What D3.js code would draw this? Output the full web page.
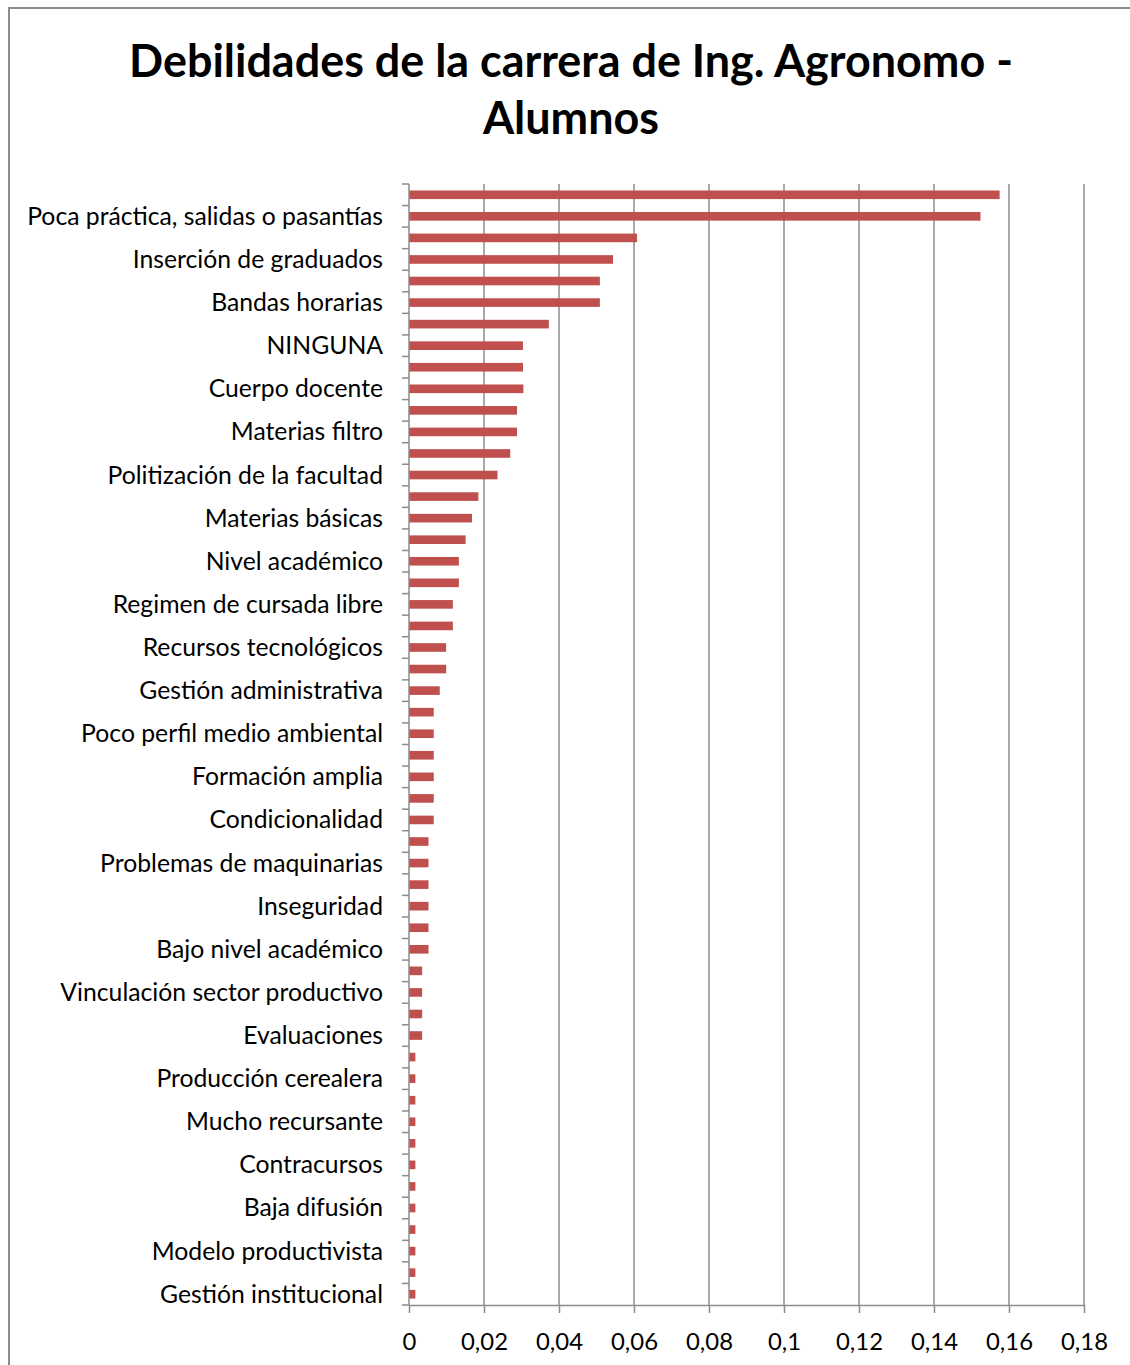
<!DOCTYPE html>
<html>
<head>
<meta charset="utf-8">
<script src="https://cdn.jsdelivr.net/npm/d3@7"></script>
<style>
  html, body { margin: 0; padding: 0; background: #fff; }
  svg { display: block; }
  text { font-family: Lato, "Open Sans", sans-serif; fill: #000; }
</style>
</head>
<body>
<svg id="chart" width="1130" height="1365"></svg>
<script>
// ---- data (top to bottom) ----
const titleLines = ["Debilidades de la carrera de Ing. Agronomo -", "Alumnos"];

// Only every second category label is shown in the source chart; hidden ones are "".
const categories = [
  "", "Poca práctica, salidas o pasantías",
  "", "Inserción de graduados",
  "", "Bandas horarias",
  "", "NINGUNA",
  "", "Cuerpo docente",
  "", "Materias filtro",
  "", "Politización de la facultad",
  "", "Materias básicas",
  "", "Nivel académico",
  "", "Regimen de cursada libre",
  "", "Recursos tecnológicos",
  "", "Gestión administrativa",
  "", "Poco perfil medio ambiental",
  "", "Formación amplia",
  "", "Condicionalidad",
  "", "Problemas de maquinarias",
  "", "Inseguridad",
  "", "Bajo nivel académico",
  "", "Vinculación sector productivo",
  "", "Evaluaciones",
  "", "Producción cerealera",
  "", "Mucho recursante",
  "", "Contracursos",
  "", "Baja difusión",
  "", "Modelo productivista",
  "", "Gestión institucional"
];

const values = [
  0.1575, 0.1524, 0.0608, 0.0544, 0.0509, 0.0509, 0.0373, 0.0304,
  0.0304, 0.0305, 0.0288, 0.0288, 0.0270, 0.0236, 0.0185, 0.0168,
  0.0151, 0.0133, 0.0133, 0.0117, 0.0117, 0.0099, 0.0099, 0.0082,
  0.0066, 0.0066, 0.0066, 0.0066, 0.0066, 0.0066,
  0.0052, 0.0052, 0.0052, 0.0052, 0.0052, 0.0052,
  0.0035, 0.0035, 0.0035, 0.0035,
  0.0017, 0.0017, 0.0017, 0.0017, 0.0017, 0.0017,
  0.0017, 0.0017, 0.0017, 0.0017, 0.0017, 0.0017
];

const xTicks = [0, 0.02, 0.04, 0.06, 0.08, 0.1, 0.12, 0.14, 0.16, 0.18];

// ---- layout ----
const svg = d3.select("#chart");
const plot = { left: 409, right: 1084, top: 184, bottom: 1305 };
const gray = "#8c8c8c";
const barColor = "#C0504D";

// outer frame (continues past the picture edges)
svg.append("rect")
  .attr("x", 9).attr("y", 8)
  .attr("width", 1200).attr("height", 1500)
  .attr("fill", "none").attr("stroke", gray).attr("stroke-width", 2);

const x = d3.scaleLinear().domain([0, 0.18]).range([plot.left, plot.right]);
const idx = d3.range(values.length);
const y = d3.scaleBand().domain(idx).range([plot.top, plot.bottom]).paddingInner(0.6).paddingOuter(0.3);
const yOuter = d3.scaleBand().domain(idx).range([plot.top, plot.bottom]);

// helper: fit font size to target width
function fitSize(sample, weight, target) {
  const t = svg.append("text").attr("font-size", 100).attr("font-weight", weight).text(sample);
  const w = t.node().getComputedTextLength();
  t.remove();
  return 100 * target / w;
}

// title
const titleSize = fitSize(titleLines[0], "bold", 884);
svg.selectAll("text.title").data(titleLines).join("text")
  .attr("class", "title")
  .attr("x", 571)
  .attr("y", (d, i) => 60 + i * 57)
  .attr("text-anchor", "middle")
  .attr("dominant-baseline", "central")
  .attr("font-weight", "bold")
  .attr("font-size", titleSize)
  .text(d => d);

// vertical gridlines
svg.append("g").selectAll("line").data(xTicks.slice(1)).join("line")
  .attr("x1", d => x(d)).attr("x2", d => x(d))
  .attr("y1", plot.top).attr("y2", plot.bottom)
  .attr("stroke", gray).attr("stroke-width", 1.5);

// bars
svg.append("g").selectAll("rect").data(values).join("rect")
  .attr("x", x(0))
  .attr("y", (d, i) => y(i))
  .attr("width", d => x(d) - x(0))
  .attr("height", y.bandwidth())
  .attr("fill", barColor);

// y axis (category axis) with ticks at band boundaries
const yAxisG = svg.append("g");
yAxisG.append("line")
  .attr("x1", plot.left).attr("x2", plot.left)
  .attr("y1", plot.top).attr("y2", plot.bottom)
  .attr("stroke", gray).attr("stroke-width", 1.5);
const boundaries = idx.map(i => yOuter(i)).concat([plot.bottom]);
yAxisG.selectAll("line.tk").data(boundaries).join("line")
  .attr("class", "tk")
  .attr("x1", plot.left - 7).attr("x2", plot.left)
  .attr("y1", d => d).attr("y2", d => d)
  .attr("stroke", gray).attr("stroke-width", 1.5);

const labelSize = fitSize("Poca práctica, salidas o pasantías", "normal", 356);
yAxisG.selectAll("text").data(categories.map((c, i) => ({ c, i })).filter(d => d.c !== "")).join("text")
  .attr("x", 383)
  .attr("y", d => yOuter(d.i) + yOuter.bandwidth() / 2 - 1)
  .attr("text-anchor", "end")
  .attr("dominant-baseline", "central")
  .attr("font-size", labelSize)
  .attr("fill", "#111")
  .text(d => d.c);

// x axis
const fmt = d => d3.format("~g")(d).replace(".", ",");
const xAxisG = svg.append("g").attr("transform", `translate(0,${plot.bottom})`)
  .call(d3.axisBottom(x).tickValues(xTicks).tickFormat(fmt).tickSizeOuter(0).tickSizeInner(8).tickPadding(20));
xAxisG.select(".domain").attr("stroke", gray).attr("stroke-width", 1.5);
xAxisG.selectAll(".tick line").attr("stroke", gray).attr("stroke-width", 1.5);
const tickSize = fitSize("0,18", "normal", 47);
xAxisG.selectAll(".tick text")
  .attr("font-family", "Lato, 'Open Sans', sans-serif")
  .attr("font-size", tickSize)
  .attr("fill", "#111");
</script>
</body>
</html>
